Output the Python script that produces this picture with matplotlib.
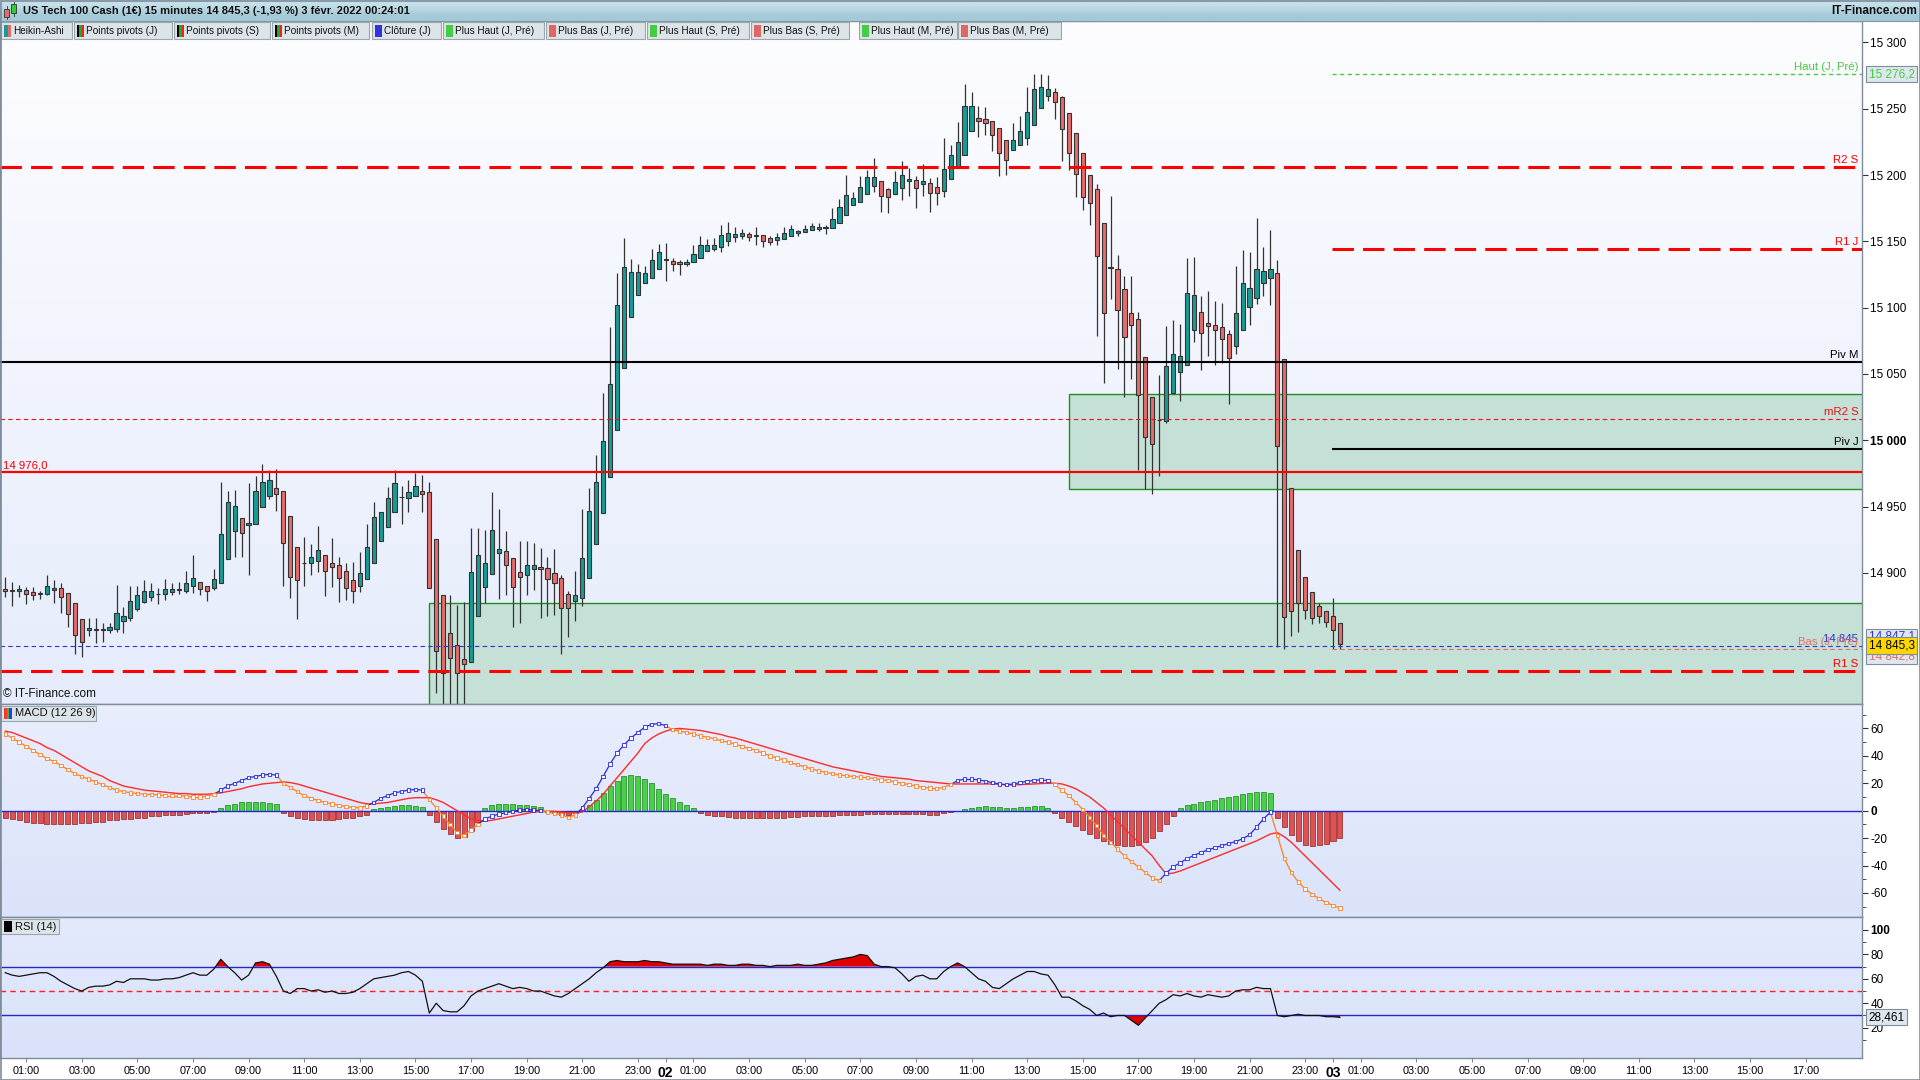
import numpy as np
import matplotlib
matplotlib.use("Agg")
import matplotlib.pyplot as plt
from matplotlib.patches import Rectangle
from matplotlib.collections import LineCollection
import matplotlib.transforms as mtransforms
import matplotlib.colors as mcolors

plt.rcParams['font.family'] = ['Liberation Sans', 'DejaVu Sans']
NARROW = ['Liberation Sans', 'DejaVu Sans']

# ------------------------------------------------------------------ DATA
title_text = "US Tech 100 Cash (1€) 15 minutes 14 845,3 (-1,93 %) 3 févr. 2022 00:24:01"
site_text = "IT-Finance.com"
legend_labels = ["Heikin-Ashi", "Points pivots (J)", "Points pivots (S)", "Points pivots (M)",
                 "Clôture (J)", "Plus Haut (J, Pré)", "Plus Bas (J, Pré)", "Plus Haut (S, Pré)",
                 "Plus Bas (S, Pré)", "Plus Haut (M, Pré)", "Plus Bas (M, Pré)"]
legend_icons = [['#1a9a96', '#e46c6a'], ['#000000', '#22aa22', '#ee2222'], ['#000000', '#22aa22', '#ee2222'],
                ['#000000', '#22aa22', '#ee2222'], ['#3333dd'], ['#44cc44'], ['#e06666'], ['#44cc44'],
                ['#e06666'], ['#44cc44'], ['#e06666']]

# Heikin-Ashi candles, 15 minutes, first candle 1 Feb 00:15
ha_open = [
    14887.8, 14886.8, 14886.1, 14887.1, 14885.3, 14884.8, 14883.8, 14886.8, 14888.3, 14884.5,
    14877.0, 14865.0, 14856.6, 14857.0, 14857.0, 14856.6, 14857.4, 14863.4, 14865.7, 14872.5,
    14877.8, 14882.0, 14883.8, 14883.8, 14885.8, 14887.2, 14886.5, 14890.0, 14892.8, 14890.1,
    14888.3, 14892.1, 14910.2, 14931.8, 14941.1, 14935.8, 14936.6, 14949.4, 14958.2, 14963.7,
    14962.0, 14942.6, 14919.7, 14907.2, 14907.2, 14909.2, 14913.2, 14907.2, 14905.7, 14901.4,
    14894.6, 14890.3, 14895.1, 14907.2, 14924.3, 14934.8, 14945.6, 14957.0, 14956.7, 14958.2,
    14962.0, 14961.2, 14925.3, 14883.3, 14854.3, 14845.3, 14835.0, 14832.8, 14867.2, 14889.7,
    14899.1, 14915.3, 14916.2, 14910.9, 14900.3, 14898.1, 14902.8, 14904.4, 14903.4, 14899.7,
    14895.9, 14884.4, 14878.7, 14880.9, 14895.9, 14921.6, 14945.0, 14972.2, 15007.5, 15054.5,
    15092.9, 15109.5, 15118.6, 15122.6, 15128.9, 15136.1, 15135.5, 15134.2, 15133.0, 15134.2,
    15137.3, 15142.6, 15144.5, 15146.1, 15150.1, 15153.0, 15153.9, 15155.2, 15154.2, 15154.5,
    15152.3, 15151.4, 15151.7, 15153.9, 15156.1, 15156.7, 15158.3, 15159.2, 15160.1, 15159.8,
    15163.6, 15169.8, 15177.4, 15179.5, 15185.5, 15192.1, 15195.2, 15189.5, 15186.1, 15189.9,
    15195.5, 15196.1, 15193.0, 15193.9, 15190.8, 15188.3, 15196.7, 15205.5, 15215.5, 15233.6,
    15242.7, 15242.1, 15240.5, 15235.2, 15226.1, 15218.6, 15222.4, 15228.3, 15237.7, 15250.8,
    15259.3, 15262.4, 15258.7, 15246.5, 15231.5, 15216.4, 15199.9, 15189.2, 15164.2, 15129.8,
    15129.5, 15113.9, 15095.7, 15091.1, 15062.6, 15032.3, 15015.1, 15014.8, 15036.0, 15051.3,
    15057.0, 15083.5, 15096.4, 15088.2, 15087.3, 15085.1, 15080.4, 15071.0, 15083.5, 15100.7,
    15107.6, 15118.6, 15122.6, 15125.8, 15061.1, 14963.8, 14917.5, 14897.2, 14885.3, 14875.3,
    14871.5, 14867.2, 14862.5]
ha_high = [
    14897.1, 14893.3, 14890.8, 14889.6, 14889.0, 14886.6, 14898.4, 14894.6, 14892.1, 14884.5,
    14877.0, 14865.0, 14865.7, 14865.7, 14861.9, 14862.4, 14890.8, 14874.5, 14890.0, 14890.0,
    14894.6, 14892.6, 14888.3, 14895.4, 14892.1, 14892.8, 14901.4, 14913.4, 14892.8, 14890.1,
    14902.6, 14968.3, 14961.7, 14962.5, 14941.1, 14967.5, 14973.0, 14982.1, 14977.6, 14978.1,
    14962.0, 14942.6, 14919.7, 14927.3, 14921.8, 14935.3, 14913.2, 14926.0, 14911.7, 14907.7,
    14908.4, 14916.0, 14936.8, 14953.2, 14945.6, 14964.5, 14977.6, 14965.7, 14970.0, 14975.6,
    14973.5, 14968.8, 14925.3, 14883.3, 14883.4, 14875.6, 14878.1, 14934.0, 14934.1, 14932.0,
    14961.0, 14948.1, 14931.9, 14910.9, 14924.0, 14924.0, 14922.5, 14918.7, 14911.6, 14917.8,
    14898.4, 14886.5, 14901.2, 14948.1, 14964.1, 14989.1, 15036.0, 15085.1, 15126.4, 15152.3,
    15136.7, 15132.9, 15131.1, 15144.5, 15148.0, 15148.9, 15137.3, 15135.8, 15136.7, 15147.6,
    15153.9, 15151.7, 15152.3, 15162.3, 15164.5, 15160.8, 15159.2, 15157.0, 15160.8, 15154.5,
    15153.9, 15156.4, 15160.8, 15162.3, 15158.6, 15162.3, 15163.9, 15163.9, 15162.3, 15175.2,
    15182.0, 15199.9, 15187.4, 15199.2, 15203.9, 15212.7, 15195.2, 15190.5, 15203.0, 15210.5,
    15205.5, 15199.2, 15208.0, 15197.7, 15198.9, 15228.0, 15222.7, 15239.9, 15268.7, 15262.4,
    15252.1, 15251.5, 15240.5, 15235.2, 15226.1, 15239.3, 15244.6, 15266.2, 15275.9, 15275.9,
    15275.2, 15265.5, 15259.3, 15246.5, 15231.5, 15216.4, 15199.9, 15193.6, 15164.2, 15184.2,
    15139.8, 15124.2, 15124.2, 15096.7, 15062.6, 15032.3, 15049.1, 15086.1, 15090.7, 15087.6,
    15137.3, 15138.3, 15108.6, 15112.9, 15105.4, 15103.9, 15083.5, 15131.4, 15143.6, 15142.3,
    15167.7, 15146.1, 15158.6, 15135.8, 15061.1, 14963.8, 14917.5, 14897.2, 14885.3, 14877.2,
    14871.5, 14880.9, 14862.5]
ha_low = [
    14881.5, 14875.2, 14882.0, 14876.5, 14879.5, 14880.3, 14883.3, 14877.5, 14870.0, 14859.4,
    14838.8, 14836.3, 14852.4, 14846.8, 14848.1, 14854.9, 14855.6, 14854.9, 14864.0, 14871.5,
    14877.0, 14878.8, 14876.2, 14879.5, 14883.3, 14883.8, 14884.5, 14884.5, 14883.3, 14879.0,
    14887.1, 14892.1, 14910.2, 14912.2, 14912.2, 14898.4, 14936.6, 14949.4, 14955.4, 14946.6,
    14890.1, 14881.3, 14865.0, 14890.3, 14898.4, 14900.9, 14882.5, 14889.0, 14878.3, 14879.5,
    14877.5, 14885.8, 14895.1, 14907.2, 14924.3, 14934.8, 14945.6, 14936.8, 14946.1, 14958.2,
    14946.1, 14888.8, 14809.6, 14798.0, 14798.0, 14798.0, 14798.0, 14832.8, 14867.2, 14877.2,
    14899.1, 14880.3, 14883.4, 14859.0, 14862.5, 14883.4, 14887.2, 14866.2, 14867.2, 14868.4,
    14839.0, 14851.5, 14864.0, 14874.7, 14895.9, 14921.6, 14945.0, 14972.2, 15007.5, 15054.5,
    15092.9, 15109.5, 15118.6, 15122.6, 15128.9, 15120.4, 15128.0, 15124.8, 15131.4, 15134.2,
    15137.3, 15142.6, 15142.9, 15142.3, 15146.7, 15149.2, 15151.7, 15150.1, 15147.6, 15146.1,
    15147.0, 15147.6, 15151.7, 15153.9, 15153.9, 15156.7, 15158.3, 15158.0, 15155.5, 15159.8,
    15163.6, 15169.8, 15177.4, 15179.5, 15185.5, 15187.4, 15172.4, 15171.7, 15186.1, 15181.1,
    15184.5, 15174.9, 15184.2, 15172.4, 15177.4, 15183.6, 15196.7, 15205.5, 15215.5, 15233.6,
    15229.0, 15230.5, 15218.0, 15199.2, 15200.2, 15218.6, 15222.4, 15222.7, 15237.7, 15250.8,
    15255.5, 15242.4, 15210.8, 15203.9, 15183.6, 15173.3, 15162.7, 15078.9, 15042.9, 15106.7,
    15053.8, 15032.9, 15046.0, 14977.2, 14963.2, 14959.1, 14973.2, 15013.2, 15036.0, 15029.8,
    15057.0, 15074.2, 15053.2, 15063.2, 15057.0, 15057.9, 15027.3, 15064.8, 15083.5, 15086.7,
    15102.9, 15108.6, 15102.3, 14844.3, 14842.8, 14852.1, 14855.3, 14865.3, 14861.5, 14862.5,
    14859.0, 14842.8, 14842.8]
ha_close = [
    14886.1, 14886.4, 14888.0, 14883.8, 14883.5, 14883.8, 14889.8, 14888.6, 14881.5, 14868.7,
    14852.9, 14848.1, 14858.4, 14857.0, 14857.0, 14858.9, 14869.5, 14867.2, 14878.8, 14883.0,
    14886.3, 14886.1, 14883.8, 14887.5, 14887.5, 14887.2, 14892.1, 14895.9, 14887.5, 14886.5,
    14895.1, 14929.0, 14953.2, 14950.2, 14930.3, 14937.6, 14961.7, 14968.3, 14970.0, 14959.5,
    14922.3, 14897.1, 14894.6, 14907.2, 14911.7, 14917.0, 14901.6, 14904.2, 14896.4, 14888.3,
    14886.5, 14899.6, 14919.7, 14941.9, 14945.6, 14956.7, 14968.0, 14957.0, 14960.7, 14965.5,
    14959.5, 14888.8, 14841.3, 14824.7, 14835.9, 14824.6, 14831.2, 14900.9, 14913.1, 14907.2,
    14932.0, 14917.8, 14905.9, 14889.0, 14896.6, 14906.2, 14906.2, 14902.8, 14895.3, 14892.2,
    14873.4, 14873.4, 14883.1, 14910.9, 14946.6, 14968.5, 14999.1, 15042.3, 15101.7, 15130.5,
    15126.7, 15126.7, 15125.8, 15135.8, 15142.3, 15136.1, 15133.0, 15132.6, 15134.8, 15140.5,
    15147.0, 15147.0, 15147.6, 15154.5, 15156.1, 15155.2, 15156.1, 15153.6, 15154.2, 15150.1,
    15149.8, 15153.0, 15156.1, 15159.2, 15157.7, 15159.2, 15161.4, 15160.8, 15160.1, 15166.7,
    15175.8, 15184.9, 15182.4, 15190.8, 15198.9, 15198.3, 15184.2, 15183.3, 15194.6, 15199.9,
    15197.0, 15189.9, 15195.5, 15186.7, 15186.7, 15204.9, 15215.5, 15224.9, 15251.8, 15251.8,
    15241.1, 15239.0, 15230.5, 15216.4, 15211.7, 15226.1, 15233.6, 15247.4, 15265.2, 15266.8,
    15265.2, 15254.9, 15234.6, 15216.4, 15200.8, 15183.3, 15178.6, 15138.6, 15095.7, 15129.8,
    15098.2, 15077.6, 15086.7, 15034.1, 15002.2, 14997.5, 15015.1, 15056.3, 15065.4, 15063.2,
    15110.8, 15109.2, 15080.7, 15086.1, 15083.5, 15076.4, 15061.7, 15095.7, 15118.9, 15114.5,
    15128.9, 15127.3, 15128.9, 14996.0, 14866.8, 14871.5, 14877.2, 14872.2, 14866.2, 14867.8,
    14863.1, 14857.1, 14846.5]

macd_line = [
    56, 53, 50, 47, 44, 41, 38, 36, 33, 30,
    27, 25, 23, 21, 19, 17, 15, 14, 13, 12.5,
    12, 12, 11.5, 11, 11, 11, 10.5, 10, 10, 10.5,
    12, 15, 18, 20, 22, 24, 25, 26, 26.5, 26,
    20, 17, 14, 11, 9, 7.5, 6, 5, 4, 3,
    2.5, 2, 3.5, 6, 9, 11, 13, 14, 15, 15.5,
    15, 8, 2, -4, -10, -16, -18, -14, -10, -6,
    -4, -2.5, -1.5, -0.5, 0.5, 1, 0.5, 0, -1, -2,
    -3, -5, -3, 2, 9, 16, 25, 34, 42, 48,
    53, 57, 61, 63, 63.5, 62, 59, 58, 57, 56,
    54.5, 53.5, 52.5, 51, 50, 48.5, 47, 45.5, 44, 42,
    40, 38.5, 37, 35, 33.5, 32, 30.5, 29, 28, 27,
    26, 25.5, 25, 24.5, 24, 23.5, 22.5, 22, 21, 20,
    19, 18, 17, 16.5, 16, 17, 19, 22, 23, 23,
    22.5, 21.5, 20.5, 19.5, 19, 19.5, 20.5, 21.5, 22, 22.5,
    22, 19, 15, 11, 6, 1, -5, -11, -18, -23,
    -28, -33, -37, -41, -45, -49, -51, -45.5, -41, -38,
    -35, -32.5, -30.5, -28.5, -27, -25.5, -24, -22.5, -20.5, -17.5,
    -12, -6, -1, -18, -35, -45, -52, -57, -61, -64,
    -67, -69, -71]
macd_signal = [
    58, 57, 55, 53, 51, 49, 46, 44, 41, 38,
    35, 32, 29, 27, 25, 22, 20, 18, 17, 16,
    15, 14.5, 14, 13.5, 13, 12.5, 12.5, 12, 12, 12,
    12.5, 13, 14, 15, 16, 17.5, 18.5, 19.5, 20, 20.5,
    21, 20.5, 19.5, 18, 16.5, 15, 13.5, 12, 10.5, 9,
    7.5, 6, 5, 5, 5.5, 6, 7, 8, 9, 9.5,
    9.5, 9.5, 8, 6, 3, 0, -3, -6, -7, -7.5,
    -7, -6, -5, -4, -3, -2, -1, -0.5, -0.5, -0.5,
    -1, -1.5, -1.5, -1, 3, 7, 12, 18, 24, 30,
    36, 42, 49, 53, 56, 58, 59.5, 60, 59.5, 59,
    58.5, 57.5, 56.5, 55.5, 54, 53, 51.5, 50, 48.5, 47,
    45.5, 44, 42.5, 41, 39.5, 38, 36.5, 35, 33.5, 32,
    31, 30, 29, 28, 27, 26, 25, 24.5, 24, 23.5,
    23, 22, 21.5, 21, 20.5, 20, 19.5, 19.5, 19.5, 19.5,
    19.5, 19.5, 19.5, 19.3, 18.8, 18.8, 19, 19.3, 19.5, 19.8,
    20, 20, 19.5, 18, 16, 13, 10, 6, 2, -3,
    -8, -13, -18, -23, -28, -33, -40, -46, -45.5, -44,
    -42, -40, -38, -36, -34, -32, -30, -28, -26, -24,
    -22, -19.5, -17, -16, -19, -23, -28, -33, -38, -43,
    -48, -53, -58]
macd_hist = [
    -5, -6, -7, -8, -9, -9, -10, -10, -10, -10,
    -10, -9, -9, -8, -8, -7, -7, -6, -6, -5,
    -5, -4, -4, -3, -3, -3, -2.5, -2, -2, -1.5,
    -1, 2, 4, 5, 6, 6, 6, 6, 5.5, 5,
    -2, -4, -5, -6, -7, -7, -7, -6.5, -6, -5.5,
    -5, -4, -3, 1, 2, 3, 3.5, 4, 4, 3.5,
    3, -3, -8, -13, -17, -20, -19, -15, -8, 2,
    4, 5, 5, 5, 4.5, 4, 3.5, 3, -1, -2,
    -3, -3, -2, 1, 4, 8, 13, 18, 22, 25,
    26, 25, 23, 20, 16, 12, 9, 6, 4, 2,
    -2, -3, -3.5, -4, -4.5, -5, -5, -5, -5, -5,
    -5, -5, -5, -4.5, -4.5, -4, -4, -4, -3.5, -3.5,
    -3, -3, -3, -3, -2.5, -2.5, -2.5, -2.5, -2.5, -2.5,
    -2.5, -2.5, -2.5, -3, -3, -2, -1, -0.5, 1, 2,
    3, 3.5, 3, 2.5, 2, 2, 2.5, 3, 3.5, 3.5,
    2, -2, -5, -8, -11, -14, -17, -20, -22, -24,
    -25, -26, -26, -25, -23, -20, -15, -10, -4, 2,
    4, 5, 6, 7, 8, 9, 10, 11, 12, 13,
    14, 14, 13, -5, -12, -18, -22, -25, -26, -25,
    -24, -22, -20]
rsi_values = [
    65, 63, 62, 63, 64, 65, 65, 62, 58, 55,
    52, 50, 53, 54, 54, 55, 58, 57, 60, 60,
    60, 59, 59, 60, 60, 61, 63, 65, 63, 63,
    68, 76, 70, 65, 59, 63, 73, 74, 72, 62,
    50, 48, 52, 52, 50, 51, 49, 50, 48, 48,
    49, 52, 56, 60, 61, 62, 63, 65, 66, 63,
    58, 32, 40, 34, 33, 33, 38, 46, 50, 52,
    54, 56, 54, 52, 53, 52, 50, 50, 48, 46,
    45, 48, 52, 56, 60, 65, 69, 74, 75, 74,
    74, 74, 75, 74, 74, 73, 72, 72, 72, 72,
    72, 71, 72, 72, 71, 71, 72, 72, 71, 71,
    70, 71, 71, 71, 72, 71, 71, 72, 73, 75,
    76, 77, 78, 80, 79, 72, 70, 70, 69, 64,
    58, 62, 63, 60, 60, 66, 70, 73, 70, 65,
    60, 58, 53, 52, 56, 60, 63, 66, 66, 64,
    63, 55, 45, 45, 42, 38, 35, 30, 32, 29,
    30, 30, 26, 22, 28, 34, 40, 43, 47, 46,
    48, 46, 45, 47, 46, 45, 46, 50, 51, 51,
    53, 52, 52, 30, 29, 30, 31, 30, 30, 30,
    29, 29, 28.461]

# x axis time labels (hours counted from 1 Feb 00:00)
x_labels = ([f"{h:02d}:00" for h in range(1, 24, 2)] + ["02"] +
            [f"{h:02d}:00" for h in range(1, 24, 2)] + ["03"] +
            [f"{h:02d}:00" for h in range(1, 18, 2)])
x_label_hours = (list(range(1, 24, 2)) + [24] + list(range(25, 48, 2)) + [48] +
                 list(range(49, 66, 2)))

price_ticks = [14900, 14950, 15000, 15050, 15100, 15150, 15200, 15250, 15300]
macd_ticks = [-60, -40, -20, 0, 20, 40, 60]
rsi_ticks = [20, 40, 60, 80, 100]

level_names = ["Haut (J, Pré)", "R2 S", "R1 J", "Piv M", "mR2 S", "Piv J", "14 976,0",
               "14 845", "Bas (J, Pré)", "R1 S"]
level_values = [15276.2, 15206.3, 15144.5, 15059.0, 15015.8, 14993.4, 14976.0,
                14845.0, 14842.8, 14826.0]
zone_low = [14963.0, 14780.0]
zone_high = [15034.7, 14877.3]
zone_start_candle = [153, 61]
last_close = 14845.3
last_high_label = 14847.1
last_low_label = 14842.8
rsi_last = 28.461

# ------------------------------------------------------------------ FIGURE
W, H = 1920, 1080
fig = plt.figure(figsize=(19.2, 10.8), dpi=100)
fig.patch.set_facecolor('white')


def rect(x0, y0, x1, y1):
    return [x0 / W, 1 - y1 / H, (x1 - x0) / W, (y1 - y0) / H]


ax = fig.add_axes(rect(0, 21, 1862, 704))
ax2 = fig.add_axes(rect(0, 704, 1862, 917), sharex=ax)
ax3 = fig.add_axes(rect(0, 917, 1862, 1058), sharex=ax)

SPINE = '#7f8c99'


def gradient(a, top, bottom):
    c1 = np.array(mcolors.to_rgb(top))
    c2 = np.array(mcolors.to_rgb(bottom))
    t = np.linspace(0, 1, 256)[:, None]
    img = (c1 * (1 - t) + c2 * t)[:, None, :]
    a.imshow(img, extent=[0, 1, 0, 1], transform=a.transAxes, aspect='auto',
             zorder=0, interpolation='bilinear')


gradient(ax, '#fdfdff', '#e6ecfc')
gradient(ax2, '#e9eefd', '#dae3fa')
gradient(ax3, '#e4eafc', '#d9e2fa')

n = len(ha_close)
for arr in (ha_open, ha_high, ha_low, macd_line, macd_signal, macd_hist, rsi_values):
    assert len(arr) == n, len(arr)
x = np.arange(n)
o = np.array(ha_open); hh = np.array(ha_high); ll = np.array(ha_low); c = np.array(ha_close)
XMIN, XMAX = -0.76, 267.1

# ---- main price panel
for lo, hi, st in zip(zone_low, zone_high, zone_start_candle):
    ax.add_patch(Rectangle((st, lo), XMAX + 2 - st, hi - lo, facecolor='#c5e0d6',
                           edgecolor='#1f8f1f', lw=1.0, zorder=1))

up = c >= o
body_col = np.where(up, '#189b96', '#e46c6a')
ax.vlines(x, ll, hh, color='#333333', lw=0.9, zorder=3)
ax.bar(x, np.maximum(np.abs(c - o), 0.5), bottom=np.minimum(o, c), width=0.6,
       color=body_col, edgecolor='#333333', linewidth=0.8, zorder=4)

day3_start = 190.9
styles = {
    "Haut (J, Pré)": dict(color='#44cc44', lw=1.0, dashes=(3, 2.5), full=False, tc='#44cc44'),
    "R2 S": dict(color='#ff0000', lw=2.2, dashes=(7, 3), full=True, tc='#ff0000'),
    "R1 J": dict(color='#ff0000', lw=2.2, dashes=(7, 3), full=False, tc='#ff0000'),
    "Piv M": dict(color='#000000', lw=1.5, dashes=None, full=True, tc='#000000'),
    "mR2 S": dict(color='#ee1111', lw=0.8, dashes=(4, 3), full=True, tc='#ee1111'),
    "Piv J": dict(color='#000000', lw=1.5, dashes=None, full=False, tc='#000000'),
    "14 976,0": dict(color='#ff0000', lw=1.6, dashes=None, full=True, tc='#ff0000'),
    "14 845": dict(color='#3333cc', lw=0.8, dashes=(4, 3), full=True, tc='#3333cc'),
    "Bas (J, Pré)": dict(color='#e07070', lw=0.8, dashes=(4, 3), full=False, tc='#e07070'),
    "R1 S": dict(color='#ff0000', lw=2.2, dashes=(7, 3), full=True, tc='#ff0000'),
}
bt = mtransforms.blended_transform_factory(ax.transAxes, ax.transData)
for name, val in zip(level_names, level_values):
    stl = styles[name]
    x0 = XMIN if stl['full'] else day3_start
    ln, = ax.plot([x0, XMAX + 2], [val, val], color=stl['color'], lw=stl['lw'], zorder=5,
                  solid_capstyle='butt', dash_capstyle='butt')
    if stl['dashes']:
        ln.set_dashes(stl['dashes'])
    if name == "14 976,0":
        ax.annotate(name, xy=(0.0015, val), xycoords=bt, xytext=(0, 1.5), textcoords='offset points',
                    ha='left', va='bottom', fontsize=8.2, color=stl['tc'], zorder=6)
    else:
        ax.annotate(name, xy=(0.998, val), xycoords=bt, xytext=(0, 1.5), textcoords='offset points',
                    ha='right', va='bottom', fontsize=8.2, color=stl['tc'], zorder=6)

ax.text(0.0015, 0.006, "© IT-Finance.com", transform=ax.transAxes, ha='left', va='bottom',
        fontsize=8.5, color='#111111', zorder=6)

ax.set_ylim(14801.1, 15316.2)
ax.yaxis.tick_right()
ax.set_yticks(price_ticks)
ax.set_yticklabels([f"{v:,}".replace(",", " ") for v in price_ticks])
for t in ax.get_yticklabels():
    if t.get_text() == "15 000":
        t.set_fontweight('bold')
        t.set_fontsize(9.5)

box_kw = dict(boxstyle='square,pad=0.18', fc='#dfe7ee', ec=SPINE, lw=0.8)
ax.text(1.0035, level_values[0], "15 276,2", transform=bt, ha='left', va='center', fontsize=8.5,
        color='#44cc44', bbox=box_kw, clip_on=False, zorder=10)
ax.annotate("14 847,1", xy=(1.0035, last_high_label), xycoords=bt, xytext=(0, 4.5),
            textcoords='offset points', ha='left', va='center', fontsize=8.5, color='#3333cc',
            bbox=box_kw, annotation_clip=False, zorder=10)
ax.annotate("14 842,8", xy=(1.0035, last_low_label), xycoords=bt, xytext=(0, -5.5),
            textcoords='offset points', ha='left', va='center', fontsize=8.5, color='#e07070',
            bbox=box_kw, annotation_clip=False, zorder=10)
ax.text(1.0035, last_close, "14 845,3", transform=bt, ha='left', va='center', fontsize=8.5,
        color='black', bbox=dict(boxstyle='square,pad=0.18', fc='#ffd700', ec=SPINE, lw=0.8),
        clip_on=False, zorder=11)

# ---- MACD panel
m = np.array(macd_line, float); sg = np.array(macd_signal, float); hs = np.array(macd_hist, float)
hist_col = np.where(hs >= 0, '#47d147', '#e05252')
hist_edge = np.where(hs >= 0, '#1f7f1f', '#8a2222')
ax2.bar(x, hs, width=0.72, color=hist_col, edgecolor=hist_edge, linewidth=0.5, zorder=2)
ax2.axhline(0, color='#2828c8', lw=1.0, zorder=3)
ax2.plot(x, sg, color='#ff2a2a', lw=1.0, zorder=4)
mcol = np.where(m >= sg, '#2b2bd6', '#ff8020')
segs = [[(x[k], m[k]), (x[k + 1], m[k + 1])] for k in range(n - 1)]
ax2.add_collection(LineCollection(segs, colors=mcol[1:], linewidths=0.9, zorder=5))
ax2.scatter(x, m, s=6, marker='s', facecolors='#f6f8ff', edgecolors=mcol, linewidths=0.6, zorder=6)
ax2.set_ylim(-77.5, 77.8)
ax2.yaxis.tick_right()
ax2.set_yticks(macd_ticks)
ax2.set_yticklabels([str(v) for v in macd_ticks])
ax2.set_yticks([-70, -50, -30, -10, 10, 30, 50, 70], minor=True)
for t in ax2.get_yticklabels():
    if t.get_text() == "0":
        t.set_fontweight('bold')
        t.set_fontsize(9.5)

# ---- RSI panel
r = np.array(rsi_values, float)
ax3.fill_between(x, r, 70, where=r > 70, interpolate=True, color='#e00000', lw=0, zorder=2)
ax3.fill_between(x, r, 30, where=r < 30, interpolate=True, color='#e00000', lw=0, zorder=2)
ax3.axhline(70, color='#2828c8', lw=1.0, zorder=3)
ax3.axhline(30, color='#2828c8', lw=1.0, zorder=3)
l50 = ax3.axhline(50, color='#ff2020', lw=1.0, zorder=3)
l50.set_dashes((4, 3))
ax3.plot(x, r, color='#111111', lw=0.9, zorder=4)
ax3.set_ylim(-4.8, 110.6)
ax3.yaxis.tick_right()
ax3.set_yticks(rsi_ticks)
ax3.set_yticklabels([str(v) for v in rsi_ticks])
ax3.set_yticks([10, 30, 50, 70, 90], minor=True)
for t in ax3.get_yticklabels():
    if t.get_text() == "100":
        t.set_fontweight('bold')
        t.set_fontsize(9.5)
bt3 = mtransforms.blended_transform_factory(ax3.transAxes, ax3.transData)
ax3.text(1.0035, rsi_last, f"{rsi_last:.3f}".replace(".", ","), transform=bt3, ha='left', va='center',
         fontsize=8.5, color='black', bbox=box_kw, clip_on=False, zorder=10)

# ---- x axis
x_idx = [h * 4 - 1 for h in x_label_hours]
ax3.set_xticks(x_idx)
ax3.set_xticklabels(x_labels)
for t in ax3.get_xticklabels():
    t.set_family(NARROW)
    if ':' not in t.get_text():
        t.set_fontweight('bold')
        t.set_fontsize(10)
    else:
        t.set_fontsize(7.8)
ax3.tick_params(axis='x', length=3, color=SPINE, pad=3)
for a in (ax, ax2):
    a.tick_params(axis='x', bottom=False, labelbottom=False)
for a in (ax, ax2, ax3):
    a.tick_params(axis='y', which='major', length=4, color='#333333', labelsize=8.5, pad=2)
    a.tick_params(axis='y', which='minor', length=3, color='#333333')
    for sp in a.spines.values():
        sp.set_color(SPINE)
        sp.set_linewidth(1.0)
    a.set_xlim(XMIN, XMAX)

# ------------------------------------------------------------------ OVERLAY (title, legend bar, labels)
ov = fig.add_axes([0, 0, 1, 1], zorder=20)
ov.set_xlim(0, W)
ov.set_ylim(H, 0)
ov.axis('off')
ov.patch.set_visible(False)

tb = np.array([mcolors.to_rgb('#c3dfe9'), mcolors.to_rgb('#a5c9d7')])[:, None, :]
ov.imshow(tb, extent=[0, W, 21, 0], aspect='auto', interpolation='bilinear', zorder=1)
ov.plot([0, W], [21, 21], color='#7d98a6', lw=0.8, zorder=2)
# candle icon
ov.add_patch(Rectangle((4, 9), 5, 8, fc='#e46c6a', ec='#333333', lw=0.6, zorder=3))
ov.plot([6.5, 6.5], [6, 19], color='#333333', lw=0.6, zorder=2)
ov.add_patch(Rectangle((11, 4), 5, 9, fc='#33cc33', ec='#333333', lw=0.6, zorder=3))
ov.plot([13.5, 13.5], [2, 16], color='#333333', lw=0.6, zorder=2)
ov.text(23, 11, title_text, ha='left', va='center', fontsize=8.0, fontweight='bold',
        family=NARROW, color='#111111', zorder=4)
ov.text(W - 3, 11, site_text, ha='right', va='center', fontsize=8.5, fontweight='bold',
        family=NARROW, color='#111111', zorder=4)

legend_x0 = [1, 74, 174, 272, 372, 443, 546, 647, 751, 859, 958]
legend_x1 = [72, 172, 270, 369, 441, 544, 645, 749, 849, 957, 1061]
for lab, icons, a0, a1 in zip(legend_labels, legend_icons, legend_x0, legend_x1):
    ov.add_patch(Rectangle((a0, 22), a1 - a0, 17, fc='#dde4e8', ec='#9aa6ae', lw=0.8, zorder=3))
    wdt = 7.0 / len(icons)
    for k, ic in enumerate(icons):
        ov.add_patch(Rectangle((a0 + 3 + k * wdt, 25), wdt, 12, fc=ic, ec='none', zorder=4))
    ov.text(a0 + 12, 31, lab, ha='left', va='center', fontsize=7.2, family=NARROW,
            color='#111111', zorder=5)

# MACD / RSI labels
ov.add_patch(Rectangle((1, 706), 95, 15, fc='#dde4e8', ec='#9aa6ae', lw=0.8, zorder=3))
for k, ic in enumerate(['#ff3333', '#33bb33', '#3333ff']):
    ov.add_patch(Rectangle((4 + k * 2.7, 708), 2.7, 11, fc=ic, ec='none', zorder=4))
ov.text(15, 713.5, "MACD (12 26 9)", ha='left', va='center', fontsize=8.0, family=NARROW,
        color='#111111', zorder=5)
ov.add_patch(Rectangle((1, 919), 58, 15, fc='#dde4e8', ec='#9aa6ae', lw=0.8, zorder=3))
ov.add_patch(Rectangle((4, 921), 8, 11, fc='#000000', ec='none', zorder=4))
ov.text(15, 926.5, "RSI (14)", ha='left', va='center', fontsize=8.0, family=NARROW,
        color='#111111', zorder=5)

ov.add_patch(Rectangle((0.5, 0.5), W - 1, H - 1, fc='none', ec=SPINE, lw=1.2, zorder=6))
ov.set_xlim(0, W)
ov.set_ylim(H, 0)

fig.savefig("out.png", dpi=100, facecolor='white')
